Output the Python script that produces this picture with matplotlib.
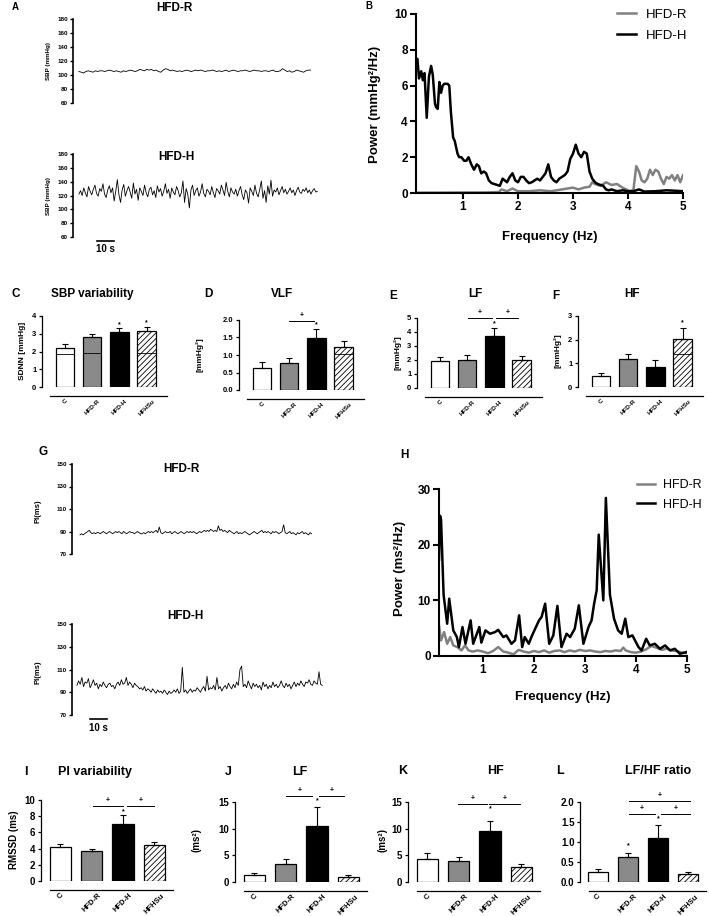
import matplotlib
matplotlib.use('Agg')
import matplotlib.pyplot as plt
import numpy as np
from matplotlib.ticker import FormatStrFormatter

plt.rcParams['font.family'] = ['Liberation Sans', 'DejaVu Sans']
plt.rcParams['font.weight'] = 'bold'
plt.rcParams['hatch.linewidth'] = 0.6

# ---------------- data ----------------
groups = ['C', 'HFD-R', 'HFD-H', 'HFHSu']

# A: SBP recordings (mmHg)
sbp_hfd_r = [105, 104, 103, 105, 106, 105, 104, 106, 105, 106,
             106, 105, 106, 107, 106, 105, 106, 105, 104, 106,
             105, 106, 107, 106, 105, 106, 108, 107, 106, 108,
             107, 108, 106, 107, 105, 104, 107, 109, 108, 106,
             107, 106, 105, 106, 105, 106, 107, 106, 105, 106,
             107, 106, 107, 106, 105, 106, 106, 107, 106, 105,
             106, 105, 106, 107, 105, 106, 107, 106, 105, 106,
             106, 107, 106, 105, 106, 107, 106, 106, 105, 106,
             106, 105, 106, 107, 105, 105, 106, 109, 107, 105,
             106, 104, 105, 107, 106, 105, 104, 106, 107, 107]
sbp_hfd_h = [122, 127, 120, 131, 124, 118, 133, 126, 121, 129,
             135, 123, 119, 130, 126, 137, 122, 117, 128, 134,
             124, 131, 112, 126, 143, 121, 110, 128, 136, 119,
             127, 133, 125, 116, 138, 122, 129, 113, 131, 126,
             120, 135, 124, 118, 129, 132, 121, 127, 117, 134,
             125, 130, 119, 126, 137, 123, 129, 116, 131, 125,
             121, 133, 127, 118, 124, 141, 110, 130, 122, 102,
             128, 135, 120, 127, 131, 119, 125, 137, 123, 118,
             129, 126, 121, 133, 124, 117, 130, 127, 122, 135,
             128, 120, 139, 126, 118, 131, 125, 122, 129, 119,
             127, 133, 121, 114, 128, 124, 109, 131, 126, 120,
             135, 123, 118, 129, 141, 116, 127, 110, 134, 122,
             142, 119, 128, 125, 131, 121, 127, 133, 124, 129,
             122, 126, 131, 124, 128, 120, 127, 132, 125, 123,
             129, 126, 131, 124, 128, 122, 127, 130, 125, 126]

# G: PI recordings (ms)
pi_hfd_r = [87, 88, 87, 88, 89, 90, 91, 89, 88, 89,
            88, 89, 89, 88, 89, 90, 89, 88, 89, 90,
            89, 88, 89, 90, 89, 90, 89, 88, 90, 89,
            88, 89, 90, 89, 89, 88, 89, 90, 89, 88,
            88, 89, 88, 89, 90, 89, 90, 89, 90, 91,
            89, 94, 89, 88, 89, 90, 89, 89, 90, 88,
            89, 90, 89, 88, 89, 90, 89, 88, 89, 90,
            89, 90, 89, 90, 89, 88, 89, 90, 89, 90,
            91, 90, 91, 90, 92, 91, 90, 91, 90, 95,
            91, 92, 90, 91, 90, 89, 91, 90, 89, 88,
            89, 90, 88, 89, 88, 89, 90, 89, 88, 87,
            88, 89, 90, 89, 88, 89, 90, 91, 89, 90,
            89, 90, 89, 88, 90, 89, 90, 89, 88, 89,
            90, 96, 89, 88, 89, 90, 88, 89, 88, 87,
            89, 88, 89, 90, 88, 89, 88, 87, 89, 88]
pi_hfd_h = [96, 100, 97, 103, 95, 99, 98, 102, 94, 97,
            101, 96, 98, 93, 97, 95, 99, 96, 94, 97,
            98, 95, 96, 93, 97, 99, 96, 101, 97, 98,
            103, 96, 99, 97, 94, 98, 96, 95, 93, 94,
            92, 95, 91, 93, 92, 90, 93, 91, 89, 92,
            90, 91, 89, 92, 90, 88, 91, 89, 90, 92,
            90, 93, 89, 91, 112, 90, 92, 89, 91, 93,
            90, 92, 91, 94, 92, 90, 93, 95, 91, 104,
            92, 94, 93, 96, 92, 103, 93, 95, 91, 94,
            96, 93, 98, 95, 93, 97, 94, 99, 96, 110,
            113, 95, 97, 94, 100, 96, 93, 98, 95, 97,
            94, 96, 92, 99, 95, 97, 93, 96, 94, 99,
            95, 97, 94, 96, 100, 96, 94, 98, 95, 97,
            93, 96, 99, 95, 98, 96, 100, 97, 95, 99,
            98, 101, 97, 96, 100, 98, 97, 108, 97, 96]

# B: SBP power spectra
b_freq_h = [0.15, 0.17, 0.2, 0.24, 0.27, 0.3, 0.34, 0.38, 0.42, 0.45,
            0.49, 0.51, 0.54, 0.57, 0.6, 0.63, 0.66, 0.72, 0.75, 0.78,
            0.82, 0.85, 0.9, 0.93, 0.97, 1.02, 1.06, 1.1, 1.15, 1.2,
            1.25, 1.29, 1.33, 1.38, 1.42, 1.47, 1.52, 1.57, 1.62, 1.67,
            1.72, 1.76, 1.8, 1.85, 1.9, 1.95, 2.0, 2.05, 2.1, 2.15,
            2.2, 2.25, 2.3, 2.35, 2.4, 2.45, 2.5, 2.55, 2.6, 2.65,
            2.7, 2.75, 2.8, 2.85, 2.9, 2.95, 3.0, 3.05, 3.1, 3.15,
            3.2, 3.25, 3.3, 3.35, 3.4, 3.45, 3.5, 3.55, 3.6, 3.65,
            3.7, 3.75, 3.8, 3.9, 4.0, 4.1, 4.2, 4.3, 4.5, 4.7, 4.9, 5.0]
b_pow_h = [7.4, 7.5, 6.4, 6.8, 6.3, 6.7, 4.2, 6.5, 7.1, 6.6,
           5.0, 4.8, 4.7, 6.2, 5.6, 6.0, 6.1, 6.1, 6.0, 4.5,
           3.1, 2.9, 2.2, 2.0, 2.0, 1.8, 1.8, 2.0, 1.6, 1.3,
           1.6, 1.5, 1.1, 1.2, 1.1, 0.7, 0.55, 0.5, 0.45, 0.4,
           0.8, 0.7, 0.6, 0.9, 1.1, 0.7, 0.6, 0.9, 0.9, 0.7,
           0.55, 0.6, 0.7, 0.8, 0.7, 0.9, 1.1, 1.6, 0.9, 0.7,
           0.6, 0.8, 0.9, 1.0, 1.2, 1.9, 2.2, 2.7, 2.2, 2.0,
           2.3, 2.2, 1.2, 0.8, 0.6, 0.5, 0.45, 0.4, 0.2, 0.15,
           0.2, 0.15, 0.1, 0.15, 0.1, 0.1, 0.2, 0.08, 0.1, 0.15, 0.12, 0.1]
b_freq_r = [0.15, 0.5, 1.0, 1.4, 1.6, 1.65, 1.7, 1.8, 1.9, 2.0,
            2.2, 2.4, 2.6, 2.8, 3.0, 3.1, 3.2, 3.3, 3.35, 3.4,
            3.5, 3.6, 3.7, 3.8, 3.9, 4.0, 4.05, 4.1, 4.15, 4.2,
            4.25, 4.3, 4.35, 4.4, 4.45, 4.5, 4.55, 4.6, 4.65, 4.7,
            4.75, 4.8, 4.85, 4.9, 4.95, 5.0]
b_pow_r = [0.02, 0.02, 0.03, 0.03, 0.05, 0.05, 0.2, 0.1, 0.25, 0.1,
           0.1, 0.15, 0.1, 0.2, 0.3, 0.2, 0.3, 0.35, 0.6, 0.5,
           0.4, 0.6, 0.45, 0.5, 0.3, 0.15, 0.1, 0.2, 1.5, 1.2,
           0.7, 0.6, 0.8, 1.3, 1.0, 1.3, 1.2, 0.8, 0.5, 0.9,
           0.8, 1.0, 0.7, 1.0, 0.6, 1.0]

# H: PI power spectra
h_freq_h = [0.14, 0.16, 0.18, 0.23, 0.3, 0.34, 0.42, 0.49, 0.53, 0.6,
            0.66, 0.76, 0.81, 0.93, 0.97, 1.05, 1.14, 1.24, 1.3, 1.4,
            1.46, 1.56, 1.63, 1.71, 1.77, 1.82, 1.9, 1.95, 2.1, 2.15,
            2.22, 2.3, 2.38, 2.46, 2.54, 2.64, 2.71, 2.8, 2.88, 2.97,
            3.07, 3.13, 3.18, 3.23, 3.27, 3.36, 3.41, 3.49, 3.57, 3.65,
            3.72, 3.79, 3.85, 3.93, 4.05, 4.11, 4.2, 4.27, 4.37, 4.47,
            4.57, 4.67, 4.76, 4.86, 4.99]
h_pow_h = [17.3, 25.2, 24.5, 11.0, 5.8, 10.3, 4.6, 3.4, 1.6, 5.2,
           2.2, 6.4, 2.2, 5.2, 2.4, 4.6, 4.0, 4.3, 4.7, 3.4,
           3.7, 2.2, 2.8, 7.3, 1.6, 3.4, 2.2, 3.4, 6.4, 7.0,
           9.4, 2.2, 3.7, 9.0, 1.6, 4.0, 3.4, 4.9, 9.1, 2.2,
           5.2, 6.4, 9.4, 11.8, 21.8, 10.0, 28.4, 11.0, 6.7, 4.6,
           4.0, 6.7, 3.4, 3.7, 1.6, 1.0, 3.1, 1.9, 2.2, 1.3,
           1.9, 1.0, 1.3, 0.4, 0.7]
h_freq_r = [0.14, 0.18, 0.24, 0.3, 0.36, 0.42, 0.5, 0.58, 0.65, 0.72,
            0.8, 0.9, 1.0, 1.1, 1.2, 1.3, 1.4, 1.5, 1.6, 1.7,
            1.8, 1.9, 2.0, 2.1, 2.2, 2.3, 2.4, 2.5, 2.6, 2.7,
            2.8, 2.9, 3.0, 3.1, 3.2, 3.3, 3.4, 3.5, 3.6, 3.7,
            3.75, 3.8, 3.9, 4.0, 4.1, 4.2, 4.3, 4.4, 4.5, 4.6,
            4.7, 4.8, 4.9, 5.0]
h_pow_r = [5.5, 2.8, 4.3, 2.2, 3.4, 1.9, 1.6, 1.0, 1.9, 1.0,
           0.8, 1.0, 0.8, 0.5, 0.9, 1.6, 0.8, 0.6, 0.3, 1.1,
           0.8, 0.6, 0.9, 0.7, 1.0, 0.6, 0.9, 1.0, 0.7, 1.0,
           0.8, 1.1, 0.9, 1.0, 0.8, 0.7, 0.9, 0.8, 1.0, 0.9,
           1.5, 1.0, 0.7, 0.6, 0.8, 1.2, 1.8, 1.5, 1.1, 1.3,
           1.0, 0.9, 0.6, 0.5]

# C-F: SBP variability (mean, SEM)
sdnn = [2.2, 2.8, 3.08, 3.18]
sdnn_err = [0.21, 0.17, 0.23, 0.22]
vlf_sbp = [0.62, 0.77, 1.48, 1.22]
vlf_sbp_err = [0.17, 0.13, 0.27, 0.19]
lf_sbp = [1.95, 2.02, 3.71, 1.98]
lf_sbp_err = [0.24, 0.36, 0.55, 0.28]
hf_sbp = [0.48, 1.19, 0.83, 2.02]
hf_sbp_err = [0.11, 0.2, 0.29, 0.46]

# I-L: PI variability (mean, SEM)
rmssd = [4.2, 3.7, 7.0, 4.5]
rmssd_err = [0.35, 0.3, 1.1, 0.35]
lf_pi = [1.3, 3.4, 10.5, 1.0]
lf_pi_err = [0.4, 1.0, 3.5, 0.4]
hf_pi = [4.4, 3.9, 9.5, 2.8]
hf_pi_err = [1.0, 0.8, 2.0, 0.6]
lfhf = [0.25, 0.63, 1.1, 0.2]
lfhf_err = [0.07, 0.1, 0.33, 0.06]

bar_colors = ['white', '#8a8a8a', 'black', 'white']
bar_hatch = [None, None, None, '//////']

# ---------------- figure ----------------
W, H = 709, 916
fig = plt.figure(figsize=(W / 100, H / 100), dpi=100)


def rect(x0, y0, x1, y1):
    # pixel box (origin top-left) -> figure fraction
    return [x0 / W, 1 - y1 / H, (x1 - x0) / W, (y1 - y0) / H]


def ftext(x, y, s, **kw):
    kw.setdefault('ha', 'center')
    kw.setdefault('va', 'center')
    fig.text(x / W, 1 - y / H, s, **kw)


def trace_panel(x0, ytop, ybot, values, t0, t1, ylim, yticks):
    ax = fig.add_axes(rect(x0, ytop, x0 + 252, ybot))
    t = np.linspace(t0, t1, len(values))
    ax.plot(t, values, color='black', lw=0.6)
    ax.set_xlim(-3.5, 145)
    ax.set_ylim(*ylim)
    ax.set_yticks(yticks)
    ax.set_xticks([])
    for s in ['top', 'right', 'bottom']:
        ax.spines[s].set_visible(False)
    ax.spines['left'].set_linewidth(1.2)
    ax.tick_params(axis='y', length=2.5, width=1, labelsize=4.5, pad=1)
    ax.patch.set_alpha(0)
    return ax


def spectrum_panel(box, xlim, ylim, yticks):
    ax = fig.add_axes(rect(*box))
    ax.set_xlim(*xlim)
    ax.set_ylim(*ylim)
    ax.set_yticks(yticks)
    ax.set_xticks([1, 2, 3, 4, 5])
    for s in ['top', 'right']:
        ax.spines[s].set_visible(False)
    for s in ['left', 'bottom']:
        ax.spines[s].set_linewidth(1.5)
    ax.tick_params(length=4, width=1.5, labelsize=8.5, pad=2)
    return ax


def bar_panel(box, xlim, means, errs, ylim, yticks, fmt=None, inner=None,
              stars=(), brackets=(), tick_size=5.5, cat_size=4.5, sym_size=5):
    ax = fig.add_axes(rect(*box))
    # offset x axis line (set before tick labels, it resets the ticks)
    ax.spines['top'].set_visible(False)
    ax.spines['right'].set_visible(False)
    ax.spines['bottom'].set_position(('outward', 6.5))
    ax.spines['bottom'].set_bounds(xlim[0] + 0.3, xlim[1])
    ax.spines['left'].set_linewidth(0.9)
    ax.spines['bottom'].set_linewidth(0.9)

    x = np.arange(len(groups))
    bars = ax.bar(x, means, width=0.68, color=bar_colors, edgecolor='black', linewidth=0.9)
    for b, h in zip(bars, bar_hatch):
        if h:
            b.set_hatch(h)
    ax.errorbar(x, means, yerr=[np.zeros(len(means)), errs], fmt='none', ecolor='black',
                elinewidth=0.8, capsize=2.5, capthick=0.8)
    if inner:
        for i, v in enumerate(inner):
            if v is not None:
                ax.hlines(v, i - 0.34, i + 0.34, color='black', lw=0.6)
    for i, y in stars:
        ax.text(i, y, '*', ha='center', va='center', fontsize=sym_size)
    for xa, xb, y in brackets:
        ax.plot([xa, xb], [y, y], color='black', lw=0.7, clip_on=False)
        ax.annotate('+', xy=((xa + xb) / 2, y), xytext=(0, 1.5), textcoords='offset points',
                    ha='center', va='bottom', fontsize=sym_size, annotation_clip=False)
    ax.set_xlim(*xlim)
    ax.set_ylim(*ylim)
    ax.set_yticks(yticks)
    if fmt:
        ax.yaxis.set_major_formatter(FormatStrFormatter(fmt))
    ax.set_xticks(x)
    ax.set_xticklabels(groups, rotation=45, ha='center', va='top', fontsize=cat_size)
    ax.tick_params(axis='x', length=0, pad=1.5)
    ax.tick_params(axis='y', length=2.5, width=0.9, labelsize=tick_size, pad=1.5)
    return ax


# ---- A: SBP traces ----
ftext(15, 7, 'A', fontsize=7)
ftext(174, 8, 'HFD-R', fontsize=8.5)
trace_panel(73, 19, 103, sbp_hfd_r, 0, 136.5, (60, 180), range(60, 181, 20))
ftext(48, 61, 'SBP (mmHg)', rotation=90, fontsize=4.5)

ftext(176, 157, 'HFD-H', fontsize=8.5)
ax = trace_panel(73, 154, 237, sbp_hfd_h, 0, 140.5, (60, 180), range(60, 181, 20))
ftext(48, 196, 'SBP (mmHg)', rotation=90, fontsize=4.5)
ax.plot([10.5, 20.5], [54, 54], color='black', lw=1.2, clip_on=False)
ax.text(15.5, 42.5, '10 s', ha='center', va='center', fontsize=7)

# ---- B: SBP spectra ----
ftext(369, 6, 'B', fontsize=7)
ax = spectrum_panel((416, 14, 683, 193), (0.145, 5), (0, 10), range(0, 11, 2))
ax.plot(b_freq_r, b_pow_r, color='#808080', lw=1.8, label='HFD-R')
ax.plot(b_freq_h, b_pow_h, color='black', lw=1.8, label='HFD-H')
ftext(550, 237, 'Frequency (Hz)', fontsize=9.5)
ftext(375, 104, 'Power (mmHg²/Hz)', rotation=90, fontsize=9.5)
ax.legend(loc='upper left', bbox_to_anchor=(612 / W, 1 - 3 / H), bbox_transform=fig.transFigure,
          frameon=False, handlelength=1.4, handletextpad=0.8, labelspacing=0.7,
          prop={'size': 9.5, 'weight': 'normal'}, borderaxespad=0)

# ---- C-F ----
ftext(16, 294, 'C', fontsize=8.5)
ftext(92, 294, 'SBP variability', fontsize=8.5)
bar_panel((42, 316, 167, 387), (-0.84, 3.75), sdnn, sdnn_err, (0, 4), range(0, 5),
          inner=[1.85, 1.9, None, 1.9], stars=[(2, 3.48), (3, 3.63)])
ftext(22, 351, 'SDNN [mmHg]', rotation=90, fontsize=6)

ftext(208, 294, 'D', fontsize=8.5)
ftext(282, 294, 'VLF', fontsize=8.5)
bar_panel((239, 320, 364, 390), (-0.84, 3.75), vlf_sbp, vlf_sbp_err, (0, 2), np.arange(0, 2.01, 0.5),
          fmt='%.1f', inner=[None, None, None, 1.02], stars=[(2, 1.86)], brackets=[(1.0, 1.9, 1.98)])
ftext(200, 355, '[mmHg²]', rotation=90, fontsize=6)

ftext(393, 296, 'E', fontsize=8.5)
ftext(475, 294, 'LF', fontsize=8.5)
bar_panel((417, 318, 542, 388), (-0.84, 3.75), lf_sbp, lf_sbp_err, (0, 5), range(0, 6),
          stars=[(2, 4.6)], brackets=[(1.02, 1.93, 5.0), (2.07, 2.88, 5.0)])
ftext(398, 353, '[mmHg²]', rotation=90, fontsize=6)

ftext(556, 296, 'F', fontsize=8.5)
ftext(632, 294, 'HF', fontsize=8.5)
bar_panel((578, 316, 703, 387), (-0.84, 3.75), hf_sbp, hf_sbp_err, (0, 3), range(0, 4),
          inner=[None, None, None, 1.39], stars=[(3, 2.72)])
ftext(558, 351, '[mmHg²]', rotation=90, fontsize=6)

# ---- G: PI traces ----
ftext(43, 452, 'G', fontsize=8.5)
ftext(181, 469, 'HFD-R', fontsize=8.5)
trace_panel(72, 464, 554, pi_hfd_r, 1.2, 137.7, (70, 150), range(70, 151, 20))
ftext(38, 511, 'PI(ms)', rotation=90, fontsize=5.5)

ftext(185, 616, 'HFD-H', fontsize=8.5)
ax = trace_panel(72, 624, 715, pi_hfd_h, -0.6, 144, (70, 150), range(70, 151, 20))
ftext(38, 672, 'PI(ms)', rotation=90, fontsize=5.5)
ax.plot([7.1, 17.1], [66.5, 66.5], color='black', lw=1.2, clip_on=False)
ax.text(12.1, 58.5, '10 s', ha='center', va='center', fontsize=7)

# ---- H: PI spectra ----
ftext(404, 455, 'H', fontsize=8.5)
ax = spectrum_panel((439, 489, 687, 656), (0.14, 5), (0, 30), range(0, 31, 10))
ax.plot(h_freq_r, h_pow_r, color='#808080', lw=1.8, label='HFD-R')
ax.plot(h_freq_h, h_pow_h, color='black', lw=1.8, label='HFD-H')
ftext(563, 697, 'Frequency (Hz)', fontsize=9.5)
ftext(400, 568, 'Power (ms²/Hz)', rotation=90, fontsize=9.5)
ax.legend(loc='upper left', bbox_to_anchor=(632 / W, 1 - 474 / H), bbox_transform=fig.transFigure,
          frameon=False, handlelength=1.4, handletextpad=0.7, labelspacing=0.6,
          prop={'size': 9, 'weight': 'normal'}, borderaxespad=0)

# ---- I-L ----
ftext(26, 772, 'I', fontsize=9)
ftext(95, 772, 'PI variability', fontsize=9)
bar_panel((41, 800, 173, 881), (-0.62, 3.6), rmssd, rmssd_err, (0, 10), range(0, 11, 2),
          stars=[(2, 8.57)], brackets=[(1.05, 2.0, 9.27), (2.13, 3.0, 9.27)],
          tick_size=7, cat_size=5.5)
ftext(14, 840, 'RMSSD (ms)', rotation=90, fontsize=7)

ftext(228, 772, 'J', fontsize=9)
ftext(300, 772, 'LF', fontsize=9)
bar_panel((235, 802, 367, 882), (-0.62, 3.6), lf_pi, lf_pi_err, (0, 15), range(0, 16, 5),
          stars=[(2, 15.3)], brackets=[(1.02, 1.85, 16.1), (2.08, 2.85, 16.1)],
          tick_size=7, cat_size=5.5)
ftext(197, 840, '(ms²)', rotation=90, fontsize=7)

ftext(403, 771, 'K', fontsize=9)
ftext(495, 771, 'HF', fontsize=9)
bar_panel((408, 802, 540, 882), (-0.62, 3.6), hf_pi, hf_pi_err, (0, 15), range(0, 16, 5),
          stars=[(2, 13.75)], brackets=[(0.97, 1.9, 14.7), (1.97, 2.95, 14.7)],
          tick_size=7, cat_size=5.5)
ftext(382, 840, '(ms²)', rotation=90, fontsize=7)

ftext(560, 771, 'L', fontsize=9)
ftext(658, 771, 'LF/HF ratio', fontsize=9)
bar_panel((580, 802, 706, 882), (-0.6, 3.6), lfhf, lfhf_err, (0, 2), np.arange(0, 2.01, 0.5),
          fmt='%.1f', stars=[(1, 0.9), (2, 1.58)],
          brackets=[(1.02, 1.9, 1.71), (2.1, 3.07, 1.71), (1.02, 3.07, 2.02)],
          tick_size=7, cat_size=5.5)

fig.savefig('out.png', dpi=100)
